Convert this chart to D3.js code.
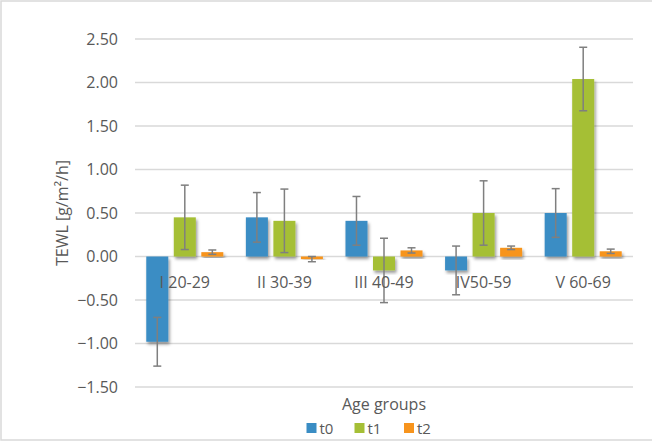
<!DOCTYPE html>
<html>
<head>
<meta charset="utf-8">
<script src="https://cdn.jsdelivr.net/npm/d3@7"></script>
<style>
  html, body { margin: 0; padding: 0; background: #fff; }
  svg { display: block; }
  text { font-family: "Open Sans", "Noto Sans", sans-serif; fill: #595959; }
</style>
</head>
<body>
<svg id="chart" width="652" height="442"></svg>
<script>
const categories = ["I 20-29", "II 30-39", "III 40-49", "IV50-59", "V 60-69"];
const seriesNames = ["t0", "t1", "t2"];
const t0 = [-0.98, 0.45, 0.41, -0.16, 0.50];
const t1 = [0.45, 0.41, -0.16, 0.50, 2.04];
const t2 = [0.05, -0.03, 0.07, 0.10, 0.06];
const err0 = [0.28, 0.285, 0.28, 0.28, 0.28];
const err1 = [0.37, 0.365, 0.37, 0.37, 0.365];
const err2 = [0.025, 0.03, 0.03, 0.02, 0.025];
const yTicks = [-1.5, -1.0, -0.5, 0, 0.5, 1.0, 1.5, 2.0, 2.5];
const colors = ["#3A8DC4", "#A5BF36", "#F7941D"];

const values = [t0, t1, t2];
const errors = [err0, err1, err2];

const svg = d3.select("#chart");
const defs = svg.append("defs");
const f = defs.append("filter").attr("id", "shadow")
  .attr("x", "-30%").attr("y", "-30%").attr("width", "160%").attr("height", "160%");
f.append("feDropShadow").attr("dx", 1.5).attr("dy", 2.5).attr("stdDeviation", 1.8)
  .attr("flood-color", "#000").attr("flood-opacity", 0.4);

// outer border
svg.append("rect").attr("x", 1).attr("y", 1).attr("width", 700).attr("height", 439)
  .attr("fill", "none").attr("stroke", "#d9d9d9").attr("stroke-width", 1.5);

const plotLeft = 135, plotRight = 633, plotTop = 39, plotBottom = 387;
const y = d3.scaleLinear().domain([-1.5, 2.5]).range([plotBottom, plotTop]);
const x0 = d3.scaleBand().domain(categories).range([plotLeft, plotRight]).paddingInner(0).paddingOuter(0);
const x1 = d3.scaleBand().domain(seriesNames).range([0, x0.bandwidth()]).paddingInner(0.2).paddingOuter(0.41);

// gridlines
svg.append("g").selectAll("line").data(yTicks).join("line")
  .attr("x1", plotLeft).attr("x2", plotRight)
  .attr("y1", d => y(d)).attr("y2", d => y(d))
  .attr("stroke", "#d9d9d9").attr("stroke-width", 1.5);

// y axis labels
const yAxis = d3.axisLeft(y).tickValues(yTicks).tickFormat(d3.format(".2f")).tickSize(0).tickPadding(17);
const yg = svg.append("g").attr("transform", `translate(${plotLeft},0)`).call(yAxis);
yg.select(".domain").remove();
yg.selectAll("text").style("font-size", "16px").attr("fill", "#595959")
  .style("font-family", "'Open Sans', sans-serif");

// bars
const groups = svg.append("g").selectAll("g").data(categories).join("g")
  .attr("transform", d => `translate(${x0(d)},0)`);

seriesNames.forEach((s, si) => {
  groups.append("rect")
    .attr("x", x1(s))
    .attr("width", x1.bandwidth())
    .attr("y", (d, i) => y(Math.max(0, values[si][i])))
    .attr("height", (d, i) => Math.abs(y(values[si][i]) - y(0)))
    .attr("fill", colors[si])
    .attr("filter", "url(#shadow)");
});

// error bars
seriesNames.forEach((s, si) => {
  const cx = x1(s) + x1.bandwidth() / 2;
  const eb = groups.append("g").attr("stroke", "#7f7f7f").attr("stroke-width", 1.5);
  eb.append("line").attr("x1", cx).attr("x2", cx)
    .attr("y1", (d, i) => y(values[si][i] + errors[si][i]))
    .attr("y2", (d, i) => y(values[si][i] - errors[si][i]));
  eb.append("line").attr("x1", cx - 4).attr("x2", cx + 4)
    .attr("y1", (d, i) => y(values[si][i] + errors[si][i]))
    .attr("y2", (d, i) => y(values[si][i] + errors[si][i]));
  eb.append("line").attr("x1", cx - 4).attr("x2", cx + 4)
    .attr("y1", (d, i) => y(values[si][i] - errors[si][i]))
    .attr("y2", (d, i) => y(values[si][i] - errors[si][i]));
});

// category labels
svg.append("g").selectAll("text").data(categories).join("text")
  .attr("x", d => x0(d) + x0.bandwidth() / 2)
  .attr("y", y(0) + 31)
  .attr("text-anchor", "middle")
  .style("font-size", "16px")
  .text(d => d);

// y axis title
svg.append("text")
  .attr("transform", `translate(68, ${213}) rotate(-90)`)
  .attr("text-anchor", "middle")
  .style("font-size", "16px")
  .text("TEWL [g/m²/h]");

// x axis title
svg.append("text")
  .attr("x", (plotLeft + plotRight) / 2).attr("y", 410)
  .attr("text-anchor", "middle")
  .style("font-size", "16px")
  .text("Age groups");

// legend
const legendX = [306.5, 354.5, 404];
const lg = svg.append("g").selectAll("g").data(seriesNames).join("g")
  .attr("transform", (d, i) => `translate(${legendX[i]}, 423)`);
lg.append("rect").attr("width", 10).attr("height", 10).attr("fill", (d, i) => colors[i]);
lg.append("text").attr("x", 13).attr("y", 10.5).style("font-size", "15px").text(d => d);
</script>
</body>
</html>
